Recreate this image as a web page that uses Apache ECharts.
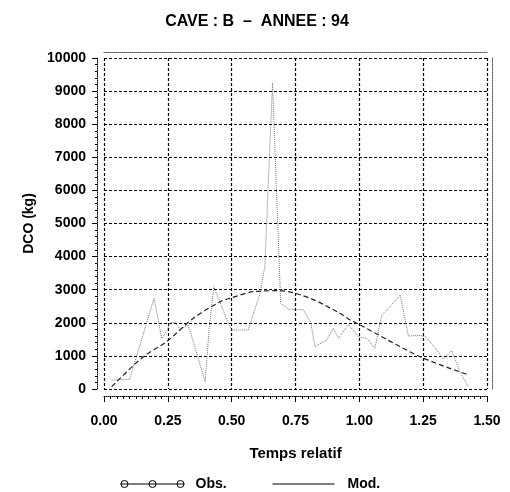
<!DOCTYPE html>
<html><head><meta charset="utf-8">
<script src="https://cdn.jsdelivr.net/npm/echarts@6/dist/echarts.min.js"></script>
<style>html,body{margin:0;padding:0;background:#fff}#c{width:510px;height:492px}</style>
</head><body><div id="c"></div>
<script>
var obsT = [0.03,0.10,0.196,0.226,0.248,0.258,0.28,0.298,0.33,0.396,0.412,0.43,0.487,0.50,0.565,0.611,0.63,0.66,0.692,0.722,0.781,0.81,0.826,0.872,0.898,0.918,0.957,0.996,1.03,1.061,1.088,1.12,1.16,1.192,1.238,1.26,1.303,1.329,1.362,1.394,1.427];
var obsV = [270,290,2740,1530,1780,2000,2000,1800,1930,220,1830,3090,1985,1780,1780,2890,3700,9250,2590,2410,2390,2000,1280,1480,1830,1530,1950,1580,1530,1230,2235,2485,2840,1600,1620,1580,1180,900,1160,520,70];
var modT = [0.03,0.154,0.245,0.35,0.455,0.493,0.585,0.69,0.807,0.924,0.964,1.003,1.238,1.43];
var modV = [70,976,1430,2136,2637,2740,2940,2970,2740,2287,2085,1934,976,420];
var seriesNames = ['Obs.','Mod.'];

function pairs(a,b){return a.map(function(v,i){return [v,b[i]];});}
var font = 'Liberation Sans, Arial, sans-serif';
var txt = {fontFamily:font,fontWeight:'bold',fontSize:14,fill:'#000'};
var chart = echarts.init(document.getElementById('c'));
chart.setOption({
  animation:false,
  backgroundColor:'#fff',
  title:{text:'CAVE : B  \u2013  ANNEE : 94',left:252,textAlign:'center',top:9,
    textStyle:{fontFamily:font,fontWeight:'bold',fontSize:16,color:'#000'}},
  grid:{left:104,right:23,top:58,bottom:103},
  graphic:[
    {type:'group',left:118,top:477,children:[
      {type:'line',shape:{x1:0,y1:7,x2:64,y2:7},style:{stroke:'#000',lineWidth:1}},
      {type:'circle',shape:{cx:4,cy:7,r:3.5},style:{stroke:'#000',fill:'none',lineWidth:1}},
      {type:'circle',shape:{cx:32,cy:7,r:3.5},style:{stroke:'#000',fill:'none',lineWidth:1}},
      {type:'circle',shape:{cx:60,cy:7,r:3.5},style:{stroke:'#000',fill:'none',lineWidth:1}},
      {type:'text',x:75,y:0,style:Object.assign({text:seriesNames[0]},txt)},
      {type:'line',shape:{x1:152,y1:7,x2:214,y2:7},style:{stroke:'#000',lineWidth:1.2}},
      {type:'text',x:227,y:0,style:Object.assign({text:seriesNames[1]},txt)}
    ]}
  ],
  xAxis:[{type:'value',min:0,max:1.5,interval:0.25,offset:7,
    name:'Temps relatif',nameLocation:'middle',nameGap:50,
    nameTextStyle:{fontFamily:font,fontWeight:'bold',fontSize:15,color:'#000'},
    axisLine:{show:true,onZero:false,lineStyle:{color:'#000',type:'dotted',width:1}},
    axisTick:{show:true,length:6,lineStyle:{color:'#000'}},
    minorTick:{show:true,splitNumber:10,length:3,lineStyle:{color:'#000'}},
    axisLabel:{margin:18,fontFamily:font,fontWeight:'bold',fontSize:14,color:'#000',
      formatter:function(v){return v.toFixed(2);}},
    splitLine:{show:true,lineStyle:{color:'#000',type:[3,2],width:1.2}}
  },{type:'value',position:'top',min:0,max:1.5,interval:0.25,offset:6,
    axisLine:{show:true,onZero:false,lineStyle:{color:'#555',type:'dotted',width:1}},
    axisTick:{show:false},axisLabel:{show:false},splitLine:{show:false}}],
  yAxis:[{type:'value',min:0,max:10000,interval:1000,offset:7,
    name:'DCO (kg)',nameLocation:'middle',nameGap:60,nameRotate:90,
    nameTextStyle:{fontFamily:font,fontWeight:'bold',fontSize:14,color:'#000'},
    axisLine:{show:true,onZero:false,lineStyle:{color:'#000',type:'dotted',width:1}},
    axisTick:{show:true,length:5,lineStyle:{color:'#000'}},
    minorTick:{show:true,splitNumber:5,length:2,lineStyle:{color:'#000'}},
    axisLabel:{margin:11,fontFamily:font,fontWeight:'bold',fontSize:14,color:'#000',
      formatter:function(v){return String(v);}},
    splitLine:{show:true,lineStyle:{color:'#000',type:[3,2],width:1.2}}
  },{type:'value',position:'right',min:0,max:10000,interval:1000,offset:5,
    axisLine:{show:true,onZero:false,lineStyle:{color:'#555',type:'dotted',width:1}},
    axisTick:{show:false},axisLabel:{show:false},splitLine:{show:false}}],
  series:[
    {name:seriesNames[0],type:'line',data:pairs(obsT,obsV),showSymbol:false,
      lineStyle:{color:'#777',width:1,type:'dotted'}},
    {name:seriesNames[1],type:'line',data:pairs(modT,modV),showSymbol:false,smooth:0.3,
      lineStyle:{color:'#222',width:1.2,type:[5,3]}}
  ]
});
</script></body></html>
